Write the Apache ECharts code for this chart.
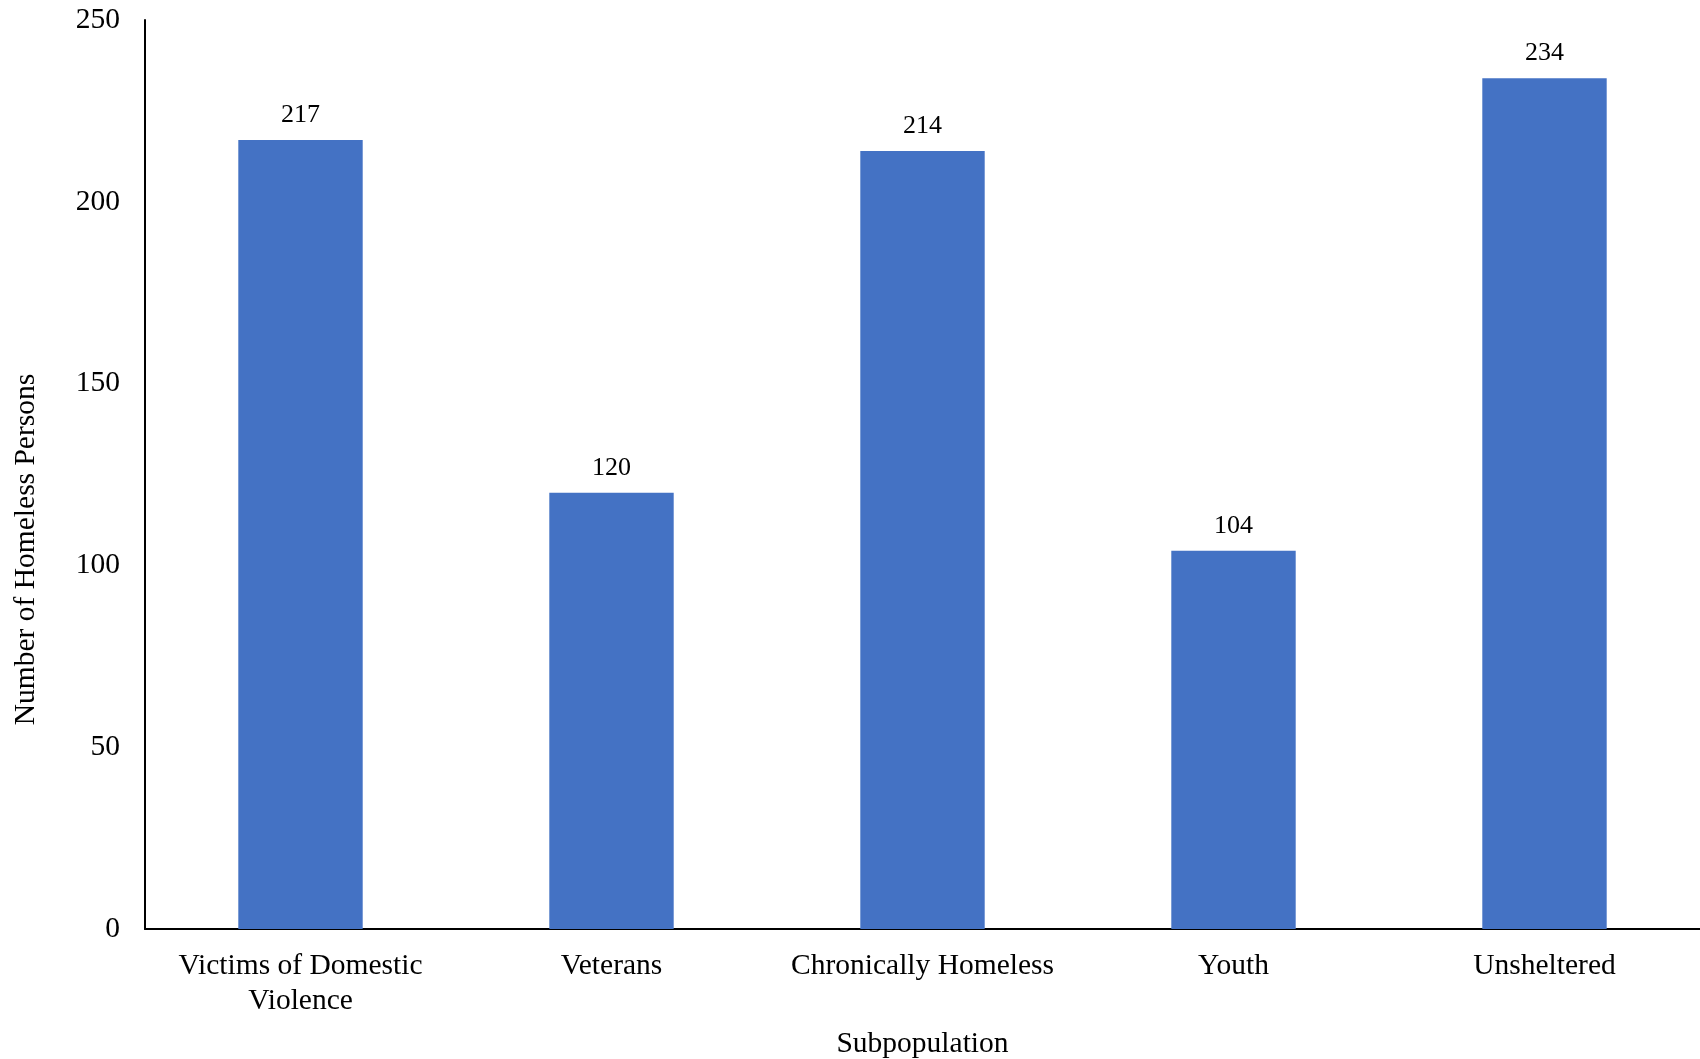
<!DOCTYPE html>
<html>
<head>
<meta charset="utf-8">
<script src="https://cdn.jsdelivr.net/npm/echarts@6/dist/echarts.min.js"></script>
<style>html,body{margin:0;padding:0;background:#fff}#c{width:1700px;height:1059px}</style>
</head>
<body>
<div id="c"></div>
<script>
const categories = ["Victims of Domestic Violence", "Veterans", "Chronically Homeless", "Youth", "Unsheltered"];
const values = [217, 120, 214, 104, 234];
const xTitle = "Subpopulation";
const yTitle = "Number of Homeless Persons";

function wrap(text, maxChars) {
  const words = text.split(' ');
  const lines = [];
  let cur = '';
  words.forEach(w => {
    const next = cur ? cur + ' ' + w : w;
    if (next.length > maxChars && cur) { lines.push(cur); cur = w; }
    else { cur = next; }
  });
  if (cur) lines.push(cur);
  return lines.join('\n');
}

const font = "'Liberation Serif', 'Times New Roman', serif";
const chart = echarts.init(document.getElementById('c'), null, {renderer: 'canvas'});
chart.setOption({
  animation: false,
  backgroundColor: '#ffffff',
  grid: {left: 145, right: 0, top: 20, bottom: 130, containLabel: false, outerBoundsMode: 'none'},
  xAxis: {
    type: 'category',
    data: categories,
    name: xTitle,
    nameLocation: 'middle',
    nameGap: 100,
    nameTextStyle: {fontFamily: font, fontSize: 29.5, color: '#000'},
    axisLine: {lineStyle: {color: '#000', width: 2}},
    axisTick: {show: false},
    axisLabel: {
      interval: 0, margin: 20, fontFamily: font, fontSize: 29.5, color: '#000',
      lineHeight: 35, formatter: v => wrap(v, 20)
    }
  },
  yAxis: {
    type: 'value',
    min: 0, max: 250, interval: 50,
    name: yTitle,
    nameLocation: 'middle',
    nameGap: 104,
    nameTextStyle: {fontFamily: font, fontSize: 29.5, color: '#000', padding: [0, 150, 0, 0]},
    axisLine: {show: true, lineStyle: {color: '#000', width: 2}},
    axisTick: {show: false},
    splitLine: {show: false},
    axisLabel: {margin: 25, fontFamily: font, fontSize: 29.5, color: '#000', padding: [4, 0, 0, 0]}
  },
  series: [{
    type: 'bar',
    data: values,
    barWidth: '40%',
    itemStyle: {color: '#4472C4'},
    label: {show: true, position: 'top', distance: 12, fontFamily: font, fontSize: 26, color: '#000'}
  }]
});
</script>
</body>
</html>
